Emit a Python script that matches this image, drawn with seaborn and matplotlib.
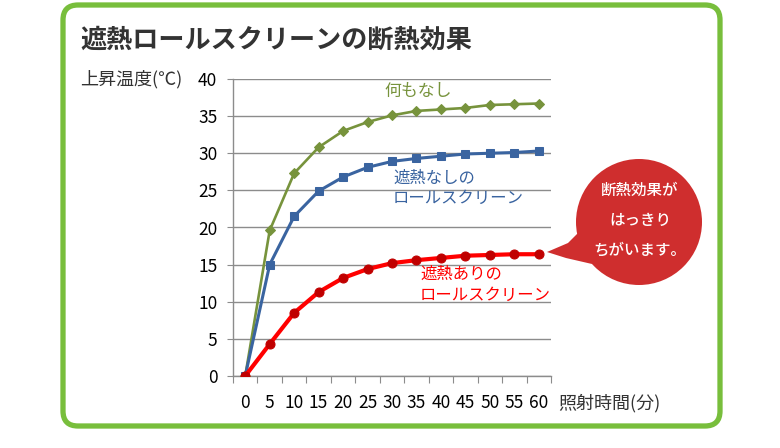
import numpy as np
import pandas as pd
import matplotlib
matplotlib.use("Agg")
import matplotlib.pyplot as plt
import matplotlib.patches as patches
from matplotlib.transforms import Affine2D
from matplotlib.ticker import FixedLocator
import seaborn as sns

# data
times = [0, 5, 10, 15, 20, 25, 30, 35, 40, 45, 50, 55, 60]
no_screen = [0, 19.6, 27.3, 30.8, 33.0, 34.2, 35.1, 35.7, 35.9, 36.1, 36.5, 36.6, 36.7]
screen_plain = [0, 15.0, 21.5, 24.9, 26.8, 28.1, 28.9, 29.3, 29.6, 29.9, 30.0, 30.1, 30.3]
screen_shield = [0, 4.3, 8.5, 11.3, 13.2, 14.4, 15.2, 15.6, 15.9, 16.2, 16.3, 16.4, 16.4]
y_ticks = [0, 5, 10, 15, 20, 25, 30, 35, 40]

title = "遮熱ロールスクリーンの断熱効果"
y_label = "上昇温度(℃)"
x_label = "照射時間(分)"
callout = ["断熱効果が", "はっきり", "ちがいます。"]

GREEN = "#77933C"
BLUE = "#3A64A0"
RED = "#FF0000"
RED_MK = "#C00000"
GRID = "#8C8C8C"
TEXT = "#333333"

sns.set_theme(style="white")
plt.rcParams['font.family'] = ['Noto Sans CJK JP', 'DejaVu Sans']

W, H = 780, 448
fig = plt.figure(figsize=(W / 100, H / 100), dpi=100)
fig.patch.set_facecolor("white")

# pixel transform, origin top-left
px = Affine2D().scale(1, -1).translate(0, H)

left, right, top, bottom = 233, 551, 79, 376
ax = fig.add_axes([left / W, 1 - bottom / H, (right - left) / W, (bottom - top) / H])
ax.set_facecolor("white")

sns.lineplot(x=times, y=no_screen, ax=ax, color=GREEN, lw=1.9, marker="D",
             markersize=5, markeredgecolor=GREEN, markerfacecolor=GREEN, zorder=3)
sns.lineplot(x=times, y=screen_plain, ax=ax, color=BLUE, lw=2.2, marker="s",
             markersize=6.2, markeredgecolor=BLUE, markerfacecolor=BLUE, zorder=4)
sns.lineplot(x=times, y=screen_shield, ax=ax, color=RED, lw=3.0, marker="o",
             markersize=6.5, markeredgecolor=RED_MK, markerfacecolor=RED_MK, zorder=5)

ax.set_xlim(times[0] - 2.5, times[-1] + 2.5)
ax.set_ylim(0, 40)
ax.set_yticks(y_ticks)
ax.set_xticks(times)
ax.set_xticklabels([str(t) for t in times])
ax.xaxis.set_minor_locator(FixedLocator([t - 2.5 for t in times] + [times[-1] + 2.5]))
ax.yaxis.grid(True, color=GRID, lw=1.0)
ax.xaxis.grid(False)
ax.set_axisbelow(True)
for s in ["top", "right"]:
    ax.spines[s].set_visible(False)
for s in ["left", "bottom"]:
    ax.spines[s].set_color(GRID)
    ax.spines[s].set_linewidth(1.0)
ax.tick_params(axis="y", which="major", length=4.3, width=0.8, color=GRID, pad=7,
               labelsize=12.5, labelcolor="black", direction="out", left=True)
ax.tick_params(axis="x", which="major", length=0, pad=13, labelsize=12.5, labelcolor="black")
ax.tick_params(axis="x", which="minor", length=5, width=0.8, color=GRID, direction="out", bottom=True)
ax.set_xlabel("")
ax.set_ylabel("")

def ftext(x, y, s, **kw):
    fig.text(x / W, 1 - y / H, s, **kw)

ftext(80, 40, title, fontsize=18.8, fontweight="bold", color=TEXT, va="center", ha="left")
ftext(80, 79, y_label, fontsize=13, color=TEXT, va="center", ha="left")
ftext(558, 403, x_label, fontsize=13, color=TEXT, va="center", ha="left")

ftext(418, 91, "何もなし", fontsize=12.2, color=GREEN, va="center", ha="center")
ftext(393, 178, "遮熱なしの", fontsize=11.8, color=BLUE, va="center", ha="left")
ftext(393, 198, "ロールスクリーン", fontsize=11.8, color=BLUE, va="center", ha="left")
ftext(420, 274, "遮熱ありの", fontsize=11.8, color=RED, va="center", ha="left")
ftext(420, 295, "ロールスクリーン", fontsize=11.8, color=RED, va="center", ha="left")

# speech bubble
BUB = "#CF2E2E"
tail = patches.Polygon([(585, 226), (568, 243), (547, 252), (566, 258), (592, 264)],
                       closed=True, facecolor=BUB, edgecolor="none", transform=px)
fig.add_artist(tail)
fig.add_artist(patches.Circle((639, 222), 63, facecolor=BUB, edgecolor="none", transform=px))
for i, line in enumerate(callout):
    ftext(640, 190 + i * 30, line, fontsize=11.2, color="white", va="center", ha="center",
          fontweight="medium")

# rounded green frame
frame = patches.FancyBboxPatch((63, 5), 657, 421, boxstyle="round,pad=0,rounding_size=15",
                               facecolor="none", edgecolor="#78BE3C", lw=3.8, transform=px)
fig.add_artist(frame)

fig.savefig("out.png", dpi=100, facecolor="white")
